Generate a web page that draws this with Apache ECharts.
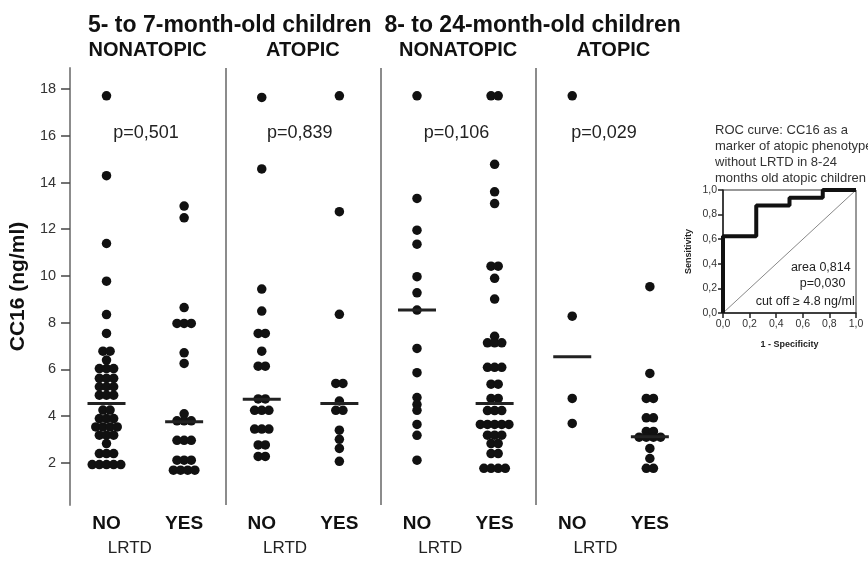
<!DOCTYPE html>
<html>
<head>
<meta charset="utf-8">
<script src="https://cdn.jsdelivr.net/npm/echarts@6/dist/echarts.min.js"></script>
<style>
  html, body { margin: 0; padding: 0; background: #fff; }
  #main { width: 868px; height: 562px; }
</style>
</head>
<body>
<div id="main"></div>
<script>
// panel headers, group labels, p-values, y ticks
const panelHeaders = ['NONATOPIC', 'ATOPIC', 'NONATOPIC', 'ATOPIC']
const groupLabels = ['NO', 'YES']
const pValues = ['p=0,501', 'p=0,839', 'p=0,106', 'p=0,029']
const yTicks = [2, 4, 6, 8, 10, 12, 14, 16, 18]

// CC16 (ng/ml), one value per child
const p1No = [17.71, 14.29, 11.39, 9.78, 8.35, 7.54, 6.78, 6.78, 6.40, 6.04, 6.04, 6.04,
  5.62, 5.62, 5.62, 5.26, 5.26, 5.26, 4.90, 4.90, 4.90, 4.26, 4.26, 3.90, 3.90, 3.90,
  3.54, 3.54, 3.54, 3.54, 3.19, 3.19, 3.19, 2.83, 2.40, 2.40, 2.40, 1.93, 1.93, 1.93, 1.93, 1.93]
const p1Yes = [12.99, 12.49, 8.65, 7.97, 7.97, 7.97, 6.71, 6.26, 4.10, 3.80, 3.80, 3.80,
  2.97, 2.97, 2.97, 2.12, 2.12, 2.12, 1.69, 1.69, 1.69, 1.69]
const p2No = [17.64, 14.58, 9.44, 8.50, 7.54, 7.54, 6.78, 6.14, 6.14, 4.74, 4.74,
  4.25, 4.25, 4.25, 3.45, 3.45, 3.45, 2.77, 2.77, 2.28, 2.28]
const p2Yes = [17.71, 12.75, 8.36, 5.40, 5.40, 4.65, 4.25, 4.25, 3.40, 3.01, 2.62, 2.07]
const p3No = [17.71, 13.32, 11.96, 11.36, 9.97, 9.28, 8.54, 6.90, 5.86, 4.80, 4.50, 4.25,
  3.65, 3.18, 2.12]
const p3Yes = [17.71, 17.71, 14.78, 13.60, 13.10, 10.42, 10.42, 9.90, 9.01, 7.42,
  7.14, 7.14, 7.14, 6.09, 6.09, 6.09, 5.37, 5.37, 4.76, 4.76, 4.24, 4.24, 4.24,
  3.65, 3.65, 3.65, 3.65, 3.65, 3.19, 3.19, 3.19, 2.83, 2.83, 2.40, 2.40,
  1.77, 1.77, 1.77, 1.77]
const p4No = [17.71, 8.28, 4.76, 3.69]
const p4Yes = [9.54, 5.83, 4.76, 4.76, 3.93, 3.93, 3.35, 3.35, 3.10, 3.10, 3.10, 3.10,
  2.62, 2.19, 1.77, 1.77]
const medians = [4.54, 3.76, 4.73, 4.54, 8.54, 4.54, 6.54, 3.12]

// ROC inset
const rocTitle = 'ROC curve: CC16 as a\nmarker of atopic phenotype\nwithout LRTD in 8-24\nmonths old atopic children'
const rocFpr = [0, 0, 0.25, 0.25, 0.5, 0.5, 0.75, 0.75, 1]
const rocTpr = [0, 0.625, 0.625, 0.875, 0.875, 0.9375, 0.9375, 1, 1]
const rocNotes = ['area 0,814', 'p=0,030', 'cut off \u2265 4.8 ng/ml']

const columns = [p1No, p1Yes, p2No, p2Yes, p3No, p3Yes, p4No, p4Yes]
const groupPos = [0.235, 0.735]
const dotStep = 0.046
const font = 'Liberation Sans, Arial, sans-serif'

const colX = columns.map((c, i) => Math.floor(i / 2) + groupPos[i % 2])

// dots with the same value are set side by side
function swarm(values, cx) {
  const counts = {}
  values.forEach(v => { counts[v] = (counts[v] || 0) + 1 })
  const seen = {}
  return values.map(v => {
    seen[v] = seen[v] === undefined ? 0 : seen[v] + 1
    return [cx + (seen[v] - (counts[v] - 1) / 2) * dotStep, v]
  })
}

const key = v => Math.round(v * 1000)
const colLabel = {}
colX.forEach((x, i) => { colLabel[key(x)] = groupLabels[i % 2] })
const lrtdX = panelHeaders.map((h, i) => i + 0.385)
const headX = panelHeaders.map((h, i) => i + 0.5)
const headLabel = {}
headX.forEach((x, i) => { headLabel[key(x)] = panelHeaders[i] })
const pLabelX = [0.49, 0.48, 0.49, 0.44]

const chart = echarts.init(document.getElementById('main'))
chart.setOption({
  animation: false,
  backgroundColor: '#fff',
  textStyle: { fontFamily: font },
  title: [{
    text: '5- to 7-month-old children  8- to 24-month-old children',
    left: 83, top: 9,
    textStyle: { fontSize: 23, fontWeight: 'bold', color: '#111', fontFamily: font }
  }, {
    text: rocTitle,
    left: 710, top: 117,
    textStyle: { fontSize: 13, fontWeight: 'normal', color: '#333', lineHeight: 16, fontFamily: font }
  }],
  grid: [
    { left: 67, right: 177, top: 68, bottom: 57 },
    { left: 723, right: 12, top: 190, bottom: 249, show: true, borderColor: '#333', borderWidth: 1 }
  ],
  xAxis: [{
    gridIndex: 0, type: 'value', min: 0, max: 4, position: 'bottom',
    axisLine: { show: false }, axisTick: { show: false }, splitLine: { show: false },
    axisLabel: {
      customValues: colX, margin: 9,
      formatter: v => colLabel[key(v)] || '',
      fontSize: 19, fontWeight: 'bold', color: '#111'
    }
  }, {
    gridIndex: 0, type: 'value', min: 0, max: 4, position: 'bottom',
    axisLine: { show: false }, axisTick: { show: false }, splitLine: { show: false },
    axisLabel: {
      customValues: lrtdX, margin: 35,
      formatter: () => 'LRTD', fontSize: 17, color: '#222'
    }
  }, {
    gridIndex: 0, type: 'value', min: 0, max: 4, position: 'top',
    axisLine: { show: false }, axisTick: { show: false }, splitLine: { show: false },
    axisLabel: {
      customValues: headX, margin: 8,
      formatter: v => headLabel[key(v)] || '',
      fontSize: 20, fontWeight: 'bold', color: '#111'
    }
  }, {
    gridIndex: 1, type: 'value', min: 0, max: 1, interval: 0.2,
    name: '1 - Specificity', nameLocation: 'middle', nameGap: 27,
    nameTextStyle: { fontSize: 9, fontWeight: 'bold', color: '#222' },
    axisLine: { lineStyle: { color: '#222', width: 1.5 } },
    axisTick: { length: 5, lineStyle: { color: '#222', width: 1.5 } },
    splitLine: { show: false },
    axisLabel: { fontSize: 10.5, color: '#333', margin: 6, formatter: v => v.toFixed(1).replace('.', ',') }
  }],
  yAxis: [{
    gridIndex: 0, type: 'value', min: 0.2, max: 18.9,
    name: 'CC16 (ng/ml)', nameLocation: 'middle', nameGap: 37, nameRotate: 90,
    nameTextStyle: { fontSize: 21, fontWeight: 'bold', color: '#111' },
    axisLine: { show: true, lineStyle: { color: '#8c8c8c', width: 2 } },
    axisTick: { show: true, customValues: yTicks, length: 9, lineStyle: { color: '#444', width: 1.5 } },
    splitLine: { show: false },
    axisLabel: { customValues: yTicks, margin: 14, fontSize: 14.5, color: '#333' }
  }, {
    gridIndex: 1, type: 'value', min: 0, max: 1, interval: 0.2,
    name: 'Sensitivity', nameLocation: 'middle', nameGap: 30, nameRotate: 90,
    nameTextStyle: { fontSize: 9, fontWeight: 'bold', color: '#222' },
    axisLine: { lineStyle: { color: '#222', width: 1.5 } },
    axisTick: { length: 5, lineStyle: { color: '#222', width: 1.5 } },
    splitLine: { show: false },
    axisLabel: { fontSize: 10.5, color: '#333', margin: 6, formatter: v => v.toFixed(1).replace('.', ',') }
  }],
  series: [
    {
      type: 'scatter', xAxisIndex: 0, yAxisIndex: 0, symbolSize: 0, data: [], silent: true,
      markLine: {
        silent: true, symbol: 'none', label: { show: false },
        lineStyle: { color: '#8c8c8c', width: 2, type: 'solid' },
        data: [{ xAxis: 1 }, { xAxis: 2 }, { xAxis: 3 }]
      }
    },
    ...columns.map((vals, i) => ({
      type: 'scatter', xAxisIndex: 0, yAxisIndex: 0,
      symbol: 'circle', symbolSize: 9.5,
      itemStyle: { color: '#111', opacity: 1 },
      data: swarm(vals, colX[i])
    })),
    {
      type: 'scatter', xAxisIndex: 0, yAxisIndex: 0, z: 3,
      symbol: 'rect', symbolSize: [38, 3],
      itemStyle: { color: '#222', opacity: 1 },
      data: medians.map((m, i) => [colX[i], m])
    },
    {
      type: 'scatter', xAxisIndex: 0, yAxisIndex: 0, symbolSize: 0,
      label: { show: true, position: 'inside', formatter: p => p.name, fontSize: 18, color: '#222' },
      itemStyle: { opacity: 1 },
      data: pValues.map((t, i) => ({ name: t, value: [i + pLabelX[i], 16.12] }))
    },
    {
      type: 'line', xAxisIndex: 3, yAxisIndex: 1, symbol: 'none',
      lineStyle: { color: '#888', width: 1 },
      data: [[0, 0], [1, 1]]
    },
    {
      type: 'line', xAxisIndex: 3, yAxisIndex: 1, symbol: 'none',
      lineStyle: { color: '#111', width: 4 }, z: 4,
      data: rocFpr.map((f, i) => [f, rocTpr[i]])
    },
    {
      type: 'scatter', xAxisIndex: 3, yAxisIndex: 1, symbolSize: 0,
      label: { show: true, position: 'left', distance: 0, formatter: p => p.name, fontSize: 12.5, color: '#222' },
      itemStyle: { opacity: 1 },
      data: [
        { name: rocNotes[0], value: [0.96, 0.37] },
        { name: rocNotes[1], value: [0.92, 0.24] },
        { name: rocNotes[2], value: [0.99, 0.09] }
      ]
    }
  ]
})
</script>
</body>
</html>
